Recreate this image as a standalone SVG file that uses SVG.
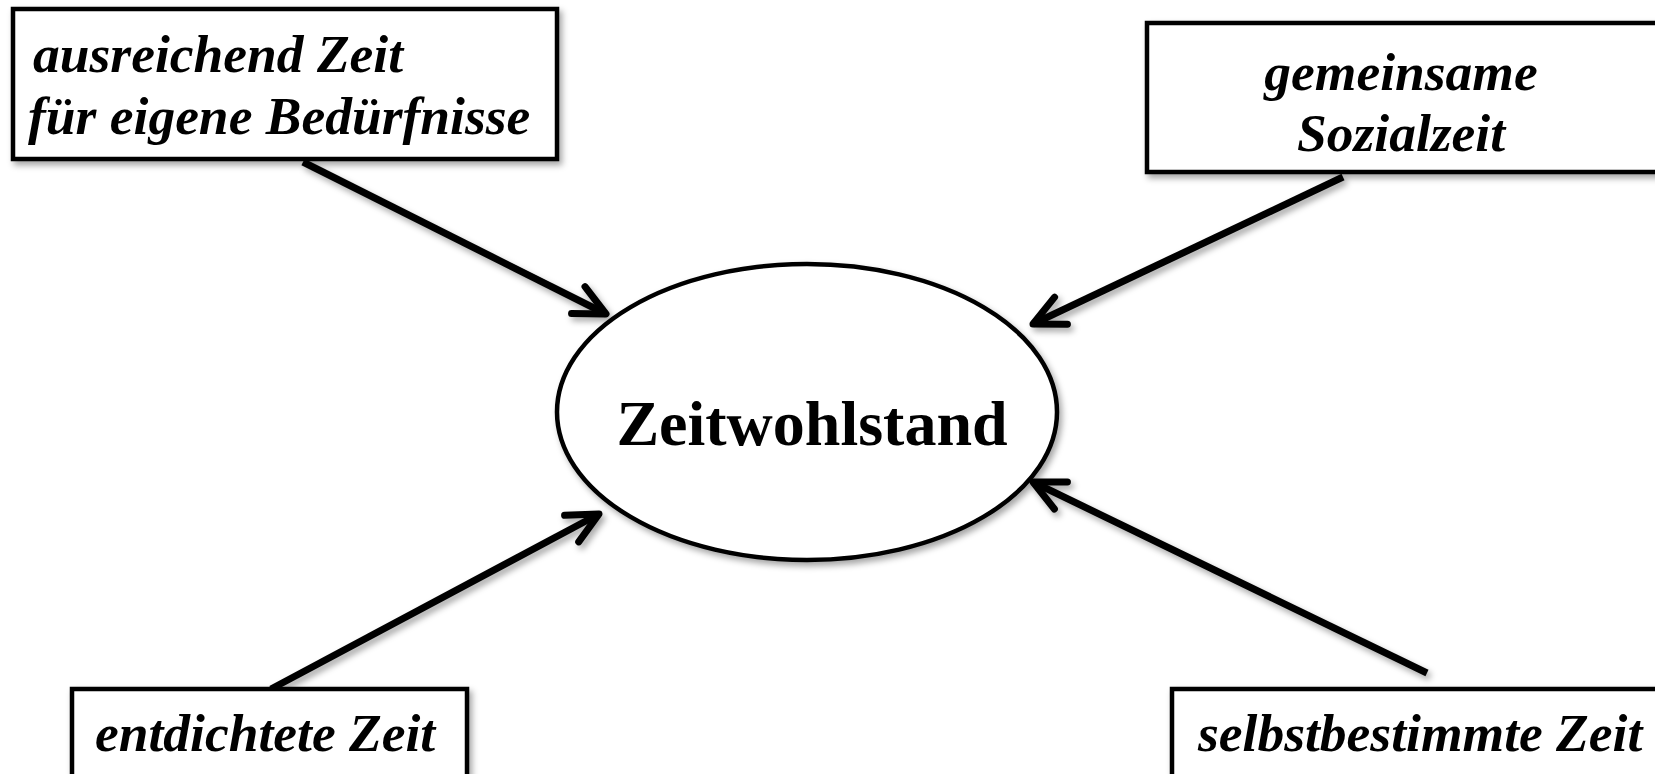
<svg xmlns="http://www.w3.org/2000/svg" width="1655" height="774" viewBox="0 0 1655 774">
<style>
.box{fill:#fff;stroke:#000;stroke-width:4.5;}
.lbl{font-family:"Liberation Serif","Times New Roman",serif;font-weight:bold;font-style:italic;font-size:53.5px;fill:#000;}
.main{font-family:"Liberation Serif","Times New Roman",serif;font-weight:bold;font-size:64px;fill:#000;}
.conn{stroke:#000;stroke-width:7;fill:none;marker-end:url(#arr);}
</style>
<defs>
<filter id="sh" x="-10%" y="-10%" width="130%" height="140%">
<feDropShadow dx="3" dy="4" stdDeviation="3" flood-color="#000" flood-opacity="0.35"/>
</filter>
<marker id="arr" markerUnits="userSpaceOnUse" viewBox="-40 -25 50 50" markerWidth="50" markerHeight="50" refX="0" refY="0" orient="auto" overflow="visible">
<path d="M-31,-15 L0,0 L-31,15" fill="none" stroke="#000" stroke-width="7" stroke-linecap="round" stroke-linejoin="round"/>
</marker>
</defs>
<rect width="1655" height="774" fill="#fff"/>
<g id="connectors" filter="url(#sh)">
<line class="conn" x1="303" y1="162" x2="606" y2="314"/>
<line class="conn" x1="1343" y1="177" x2="1033" y2="324"/>
<line class="conn" x1="271" y1="689" x2="599" y2="514"/>
<line class="conn" x1="1427" y1="673" x2="1033" y2="482"/>
</g>
<g id="node-center">
<ellipse cx="807" cy="412" rx="250" ry="148" fill="#fff" stroke="#000" stroke-width="4.5" filter="url(#sh)"/>
<text class="main" x="812" y="445" text-anchor="middle">Zeitwohlstand</text>
</g>
<g id="node-ausreichend">
<rect class="box" x="13" y="9" width="544" height="150" filter="url(#sh)"/>
<text class="lbl" x="33" y="72">ausreichend Zeit</text>
<text class="lbl" x="28" y="134">für eigene Bedürfnisse</text>
</g>
<g id="node-gemeinsam">
<rect class="box" x="1147" y="23" width="520" height="149" filter="url(#sh)"/>
<text class="lbl" x="1401" y="90" text-anchor="middle">gemeinsame</text>
<text class="lbl" x="1401" y="151" text-anchor="middle">Sozialzeit</text>
</g>
<g id="node-entdichtet">
<rect class="box" x="72" y="689" width="395" height="100" filter="url(#sh)"/>
<text class="lbl" x="95" y="751">entdichtete Zeit</text>
</g>
<g id="node-selbstbestimmt">
<rect class="box" x="1172" y="689" width="500" height="100" filter="url(#sh)"/>
<text class="lbl" x="1198" y="751">selbstbestimmte Zeit</text>
</g>
</svg>
